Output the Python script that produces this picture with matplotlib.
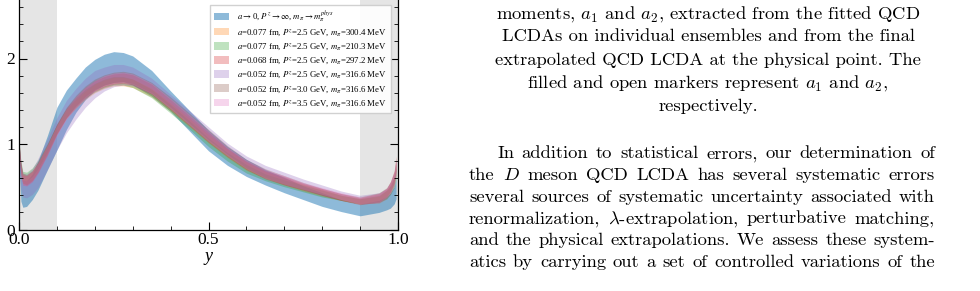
import numpy as np
import matplotlib
matplotlib.use("Agg")
from matplotlib import pyplot as plt
from matplotlib.ticker import MultipleLocator, FormatStrFormatter

y_grid = [0.0, 0.005, 0.01, 0.02, 0.035, 0.05, 0.075, 0.1, 0.125, 0.15, 0.175, 0.2,
          0.225, 0.25, 0.275, 0.3, 0.35, 0.4, 0.45, 0.5, 0.55, 0.6, 0.65, 0.7,
          0.75, 0.8, 0.85, 0.9, 0.95, 0.97, 0.98, 0.99, 0.995]

# extrapolated band (a->0, Pz->inf, physical pion mass)
phys_c = [0.90, 0.55, 0.42, 0.42, 0.50, 0.63, 0.90, 1.18, 1.40, 1.57, 1.71, 1.81,
          1.87, 1.90, 1.90, 1.86, 1.71, 1.50, 1.27, 1.04, 0.86, 0.72, 0.61, 0.52,
          0.43, 0.35, 0.28, 0.23, 0.27, 0.31, 0.34, 0.40, 0.48]
phys_w = [0.10, 0.22, 0.16, 0.15, 0.15, 0.17, 0.20, 0.25, 0.23, 0.20, 0.19, 0.18,
          0.18, 0.18, 0.17, 0.17, 0.15, 0.12, 0.12, 0.12, 0.11, 0.10, 0.09, 0.09,
          0.08, 0.08, 0.07, 0.07, 0.07, 0.08, 0.09, 0.10, 0.12]

# individual ensembles
ens_a077_300_c = [0.93, 0.70, 0.59, 0.58, 0.63, 0.73, 0.94, 1.17, 1.35, 1.47, 1.57, 1.65,
                  1.70, 1.73, 1.73, 1.71, 1.60, 1.43, 1.25, 1.06, 0.89, 0.74, 0.64, 0.56,
                  0.49, 0.43, 0.37, 0.33, 0.35, 0.41, 0.47, 0.57, 0.71]
ens_a077_300_w = [0.07, 0.06, 0.05, 0.05, 0.05, 0.05, 0.05, 0.05, 0.05, 0.05, 0.05, 0.05,
                  0.05, 0.05, 0.05, 0.05, 0.05, 0.05, 0.05, 0.05, 0.05, 0.05, 0.04, 0.04,
                  0.04, 0.04, 0.03, 0.03, 0.04, 0.05, 0.05, 0.06, 0.07]

ens_a077_210_c = [0.97, 0.74, 0.63, 0.62, 0.67, 0.76, 0.96, 1.18, 1.36, 1.49, 1.59, 1.66,
                  1.71, 1.74, 1.74, 1.71, 1.59, 1.41, 1.22, 1.02, 0.85, 0.71, 0.61, 0.54,
                  0.48, 0.42, 0.37, 0.33, 0.36, 0.41, 0.46, 0.55, 0.66]
ens_a077_210_w = [0.07, 0.06, 0.05, 0.05, 0.05, 0.05, 0.05, 0.05, 0.05, 0.05, 0.05, 0.05,
                  0.05, 0.05, 0.05, 0.05, 0.05, 0.05, 0.05, 0.05, 0.05, 0.05, 0.04, 0.04,
                  0.04, 0.04, 0.03, 0.03, 0.04, 0.05, 0.05, 0.06, 0.07]

ens_a068_297_c = [0.95, 0.70, 0.58, 0.57, 0.62, 0.72, 0.93, 1.17, 1.36, 1.49, 1.60, 1.68,
                  1.73, 1.76, 1.77, 1.75, 1.64, 1.46, 1.27, 1.08, 0.90, 0.75, 0.64, 0.57,
                  0.50, 0.44, 0.38, 0.33, 0.37, 0.43, 0.50, 0.62, 0.78]
ens_a068_297_w = [0.08, 0.07, 0.06, 0.06, 0.06, 0.06, 0.06, 0.06, 0.06, 0.06, 0.06, 0.06,
                  0.06, 0.06, 0.06, 0.06, 0.06, 0.06, 0.06, 0.06, 0.05, 0.05, 0.05, 0.05,
                  0.04, 0.04, 0.04, 0.04, 0.05, 0.05, 0.06, 0.07, 0.08]

ens_a052_p25_c = [0.92, 0.62, 0.52, 0.51, 0.56, 0.66, 0.88, 1.12, 1.32, 1.47, 1.60, 1.70,
                  1.76, 1.80, 1.81, 1.79, 1.68, 1.50, 1.31, 1.12, 0.94, 0.79, 0.68, 0.60,
                  0.53, 0.46, 0.40, 0.35, 0.37, 0.42, 0.48, 0.58, 0.72]
ens_a052_p25_w = [0.10, 0.15, 0.14, 0.14, 0.15, 0.17, 0.18, 0.19, 0.19, 0.18, 0.17, 0.16,
                  0.14, 0.13, 0.12, 0.11, 0.09, 0.08, 0.08, 0.08, 0.07, 0.07, 0.07, 0.07,
                  0.06, 0.06, 0.05, 0.05, 0.06, 0.06, 0.07, 0.08, 0.09]

ens_a052_p30_c = [0.96, 0.72, 0.60, 0.58, 0.63, 0.73, 0.94, 1.18, 1.37, 1.51, 1.62, 1.70,
                  1.75, 1.78, 1.79, 1.77, 1.66, 1.49, 1.30, 1.11, 0.93, 0.77, 0.66, 0.58,
                  0.51, 0.44, 0.38, 0.34, 0.38, 0.44, 0.50, 0.61, 0.76]
ens_a052_p30_w = [0.07, 0.06, 0.06, 0.06, 0.06, 0.06, 0.06, 0.06, 0.06, 0.06, 0.06, 0.06,
                  0.06, 0.06, 0.06, 0.06, 0.06, 0.06, 0.06, 0.06, 0.05, 0.05, 0.05, 0.05,
                  0.04, 0.04, 0.04, 0.04, 0.05, 0.05, 0.06, 0.07, 0.08]

ens_a052_p35_c = [0.94, 0.70, 0.58, 0.57, 0.62, 0.72, 0.93, 1.16, 1.35, 1.49, 1.60, 1.68,
                  1.74, 1.77, 1.78, 1.76, 1.65, 1.47, 1.28, 1.09, 0.91, 0.76, 0.65, 0.58,
                  0.51, 0.45, 0.39, 0.34, 0.37, 0.43, 0.49, 0.60, 0.74]
ens_a052_p35_w = [0.07, 0.06, 0.06, 0.06, 0.06, 0.06, 0.06, 0.06, 0.06, 0.06, 0.06, 0.06,
                  0.06, 0.06, 0.06, 0.06, 0.06, 0.06, 0.06, 0.06, 0.05, 0.05, 0.05, 0.05,
                  0.04, 0.04, 0.04, 0.04, 0.05, 0.05, 0.06, 0.07, 0.08]

labels = [
    r"$a$$\rightarrow$0, $P^z$$\rightarrow$$\infty$, $m_\pi$$\rightarrow$$m_\pi^{phys}$",
    r"$a$=0.077 fm, $P^z$=2.5 GeV, $m_\pi$=300.4 MeV",
    r"$a$=0.077 fm, $P^z$=2.5 GeV, $m_\pi$=210.3 MeV",
    r"$a$=0.068 fm, $P^z$=2.5 GeV, $m_\pi$=297.2 MeV",
    r"$a$=0.052 fm, $P^z$=2.5 GeV, $m_\pi$=316.6 MeV",
    r"$a$=0.052 fm, $P^z$=3.0 GeV, $m_\pi$=316.6 MeV",
    r"$a$=0.052 fm, $P^z$=3.5 GeV, $m_\pi$=316.6 MeV",
]

caption_lines = [
    r"moments, $a_1$ and $a_2$, extracted from the fitted QCD",
    "LCDAs on individual ensembles and from the final",
    "extrapolated QCD LCDA at the physical point. The",
    r"filled and open markers represent $a_1$ and $a_2$,",
    "respectively.",
]
para_lines = [
    "In addition to statistical errors, our determination of",
    r"the $D$ meson QCD LCDA has several systematic errors",
    "several sources of systematic uncertainty associated with",
    r"renormalization, $\lambda$-extrapolation, perturbative matching,",
    "and the physical extrapolations. We assess these system-",
    "atics by carrying out a set of controlled variations of the",
]

plt.rcParams["mathtext.fontset"] = "stix"
plt.rcParams["font.family"] = ["Liberation Serif", "DejaVu Serif"]

W, H = 980, 291
fig = plt.figure(figsize=(W / 100, H / 100), dpi=100)
ymax = 2.8
ax = fig.add_axes([19 / W, 61.5 / H, 379 / W, ymax * 85.5 / H])

ax.axvspan(0.0, 0.1, color="#e5e5e5", lw=0, zorder=0)
ax.axvspan(0.9, 1.0, color="#e5e5e5", lw=0, zorder=0)

yy = np.array(y_grid)
bands = [
    (phys_c, phys_w, "#1f77b4", 0.5),
    (ens_a077_300_c, ens_a077_300_w, "#ff7f0e", 0.3),
    (ens_a077_210_c, ens_a077_210_w, "#2ca02c", 0.3),
    (ens_a068_297_c, ens_a068_297_w, "#d62728", 0.3),
    (ens_a052_p25_c, ens_a052_p25_w, "#9467bd", 0.3),
    (ens_a052_p30_c, ens_a052_p30_w, "#8c564b", 0.3),
    (ens_a052_p35_c, ens_a052_p35_w, "#e377c2", 0.3),
]
for (c, w, col, al), lab in zip(bands, labels):
    c = np.array(c)
    w = np.array(w)
    ax.fill_between(yy, c - w, c + w, color=col, alpha=al, lw=0, label=lab)

ax.set_xlim(0, 1)
ax.set_ylim(0, ymax)
ax.xaxis.set_major_locator(MultipleLocator(0.5))
ax.xaxis.set_minor_locator(MultipleLocator(0.1))
ax.yaxis.set_major_locator(MultipleLocator(1))
ax.yaxis.set_minor_locator(MultipleLocator(0.2))
ax.xaxis.set_major_formatter(FormatStrFormatter("%.1f"))
ax.yaxis.set_major_formatter(FormatStrFormatter("%d"))
ax.tick_params(which="both", direction="in", top=True, right=True, labelsize=12.5)
ax.tick_params(which="major", length=6, width=0.8)
ax.tick_params(which="minor", length=3, width=0.6)
ax.tick_params(axis="x", pad=1.5)
ax.tick_params(axis="y", pad=3)
for s in ax.spines.values():
    s.set_linewidth(0.9)
ax.set_xlabel("y", fontstyle="italic", fontsize=13, labelpad=0)

ax.legend(loc="upper right", bbox_to_anchor=(395 / W, 1 - 1 / H),
          bbox_transform=fig.transFigure, fontsize=6.35, frameon=True,
          fancybox=False, edgecolor="#cccccc", framealpha=0.9,
          handlelength=1.7, handleheight=0.95, labelspacing=0.38,
          borderpad=0.45, handletextpad=0.9)

# page text on the right side
tfont = dict(fontfamily="cmr10", fontsize=13.4)
plt.rcParams["mathtext.fontset"] = "cm"
renderer = fig.canvas.get_renderer()

cap_base = [18.3, 41.5, 64.7, 87.5, 110.5]
for line, yb in zip(caption_lines, cap_base):
    fig.text(708 / W, 1 - yb / H, line, ha="center", va="baseline",
             math_fontfamily="cm", **tfont)

para_base = [158.3, 180.0, 201.7, 223.3, 245.0, 266.7]
x_left, x_right = 469, 935
for i, (line, yb) in enumerate(zip(para_lines, para_base)):
    x0 = x_left + (28 if i == 0 else 0)
    words = line.split(" ")
    texts = [fig.text(0, 1 - yb / H, wd, ha="left", va="baseline",
                      math_fontfamily="cm", **tfont) for wd in words]
    widths = [t.get_window_extent(renderer).width for t in texts]
    gap = (x_right - x0 - sum(widths)) / (len(words) - 1)
    x = x0
    for t, wd in zip(texts, widths):
        t.set_x(x / W)
        x += wd + gap

fig.savefig("out.png", dpi=100)
